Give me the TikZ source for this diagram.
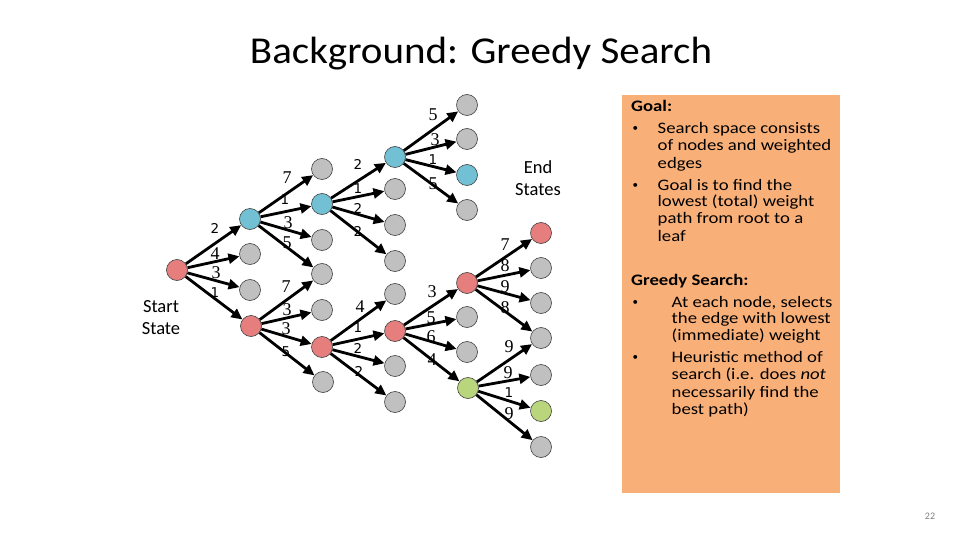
\documentclass[tikz,border=0pt]{standalone}
\usepackage{fontspec}
\setmainfont{Carlito}
\newfontfamily\titlefont{Carlito}[FakeStretch=1.08]
\newfontfamily\boxfont{Carlito}[FakeStretch=1.17]
\newfontfamily\numserif{Liberation Serif}
\newfontfamily\numsans{DejaVu Sans}
\usetikzlibrary{arrows.meta}
\definecolor{nred}{HTML}{E67E7E}
\definecolor{nblue}{HTML}{72C0D4}
\definecolor{ngray}{HTML}{C0C0C0}
\definecolor{ngreen}{HTML}{B9D67C}
\definecolor{boxc}{HTML}{F9AF78}
\begin{document}
\begin{tikzpicture}[x=1pt,y=-1pt,
  tn/.style={circle,draw=black!75,line width=0.6pt,minimum size=21pt,inner sep=0pt},
  redn/.style={tn,fill=nred},
  bluen/.style={tn,fill=nblue},
  grayn/.style={tn,fill=ngray},
  greenn/.style={tn,fill=ngreen},
  edge/.style={line width=2.8pt,-{Triangle[length=11pt,width=10pt]}},
  ws/.style={inner sep=0pt,font=\numsans\fontsize{13.5pt}{14pt}\selectfont},
  wr/.style={inner sep=0pt,font=\numserif\fontsize{18pt}{18pt}\selectfont},
  lbl/.style={anchor=base,inner sep=0pt,font=\fontsize{18.5pt}{20pt}\selectfont},
  bt/.style={anchor=base west,inner sep=0pt,font=\boxfont\fontsize{16pt}{17pt}\selectfont},
  bul/.style={anchor=base west,inner sep=0pt,font=\fontsize{11pt}{11pt}\selectfont},
  bb/.style={bt,font=\boxfont\bfseries\fontsize{16pt}{17pt}\selectfont}]
\useasboundingbox (0,0) rectangle (960,540);

% title
\node[anchor=base,inner sep=0pt,font=\titlefont\fontsize{38pt}{42pt}\selectfont] (title) at (481,64) {Background: Greedy Search};

% nodes
\node[redn] (R0) at (177,270) {};
\node[bluen] (B1) at (250,219) {};
\node[grayn] (G1a) at (250,254) {};
\node[grayn] (G1b) at (250,290) {};
\node[redn] (R1) at (251,326) {};

\node[grayn] (G2a) at (322,169) {};
\node[bluen] (B2) at (322,204) {};
\node[grayn] (G2b) at (322,240) {};
\node[grayn] (G2c) at (322,274) {};
\node[grayn] (G2d) at (322,310) {};
\node[redn] (R2) at (322,347) {};
\node[grayn] (G2e) at (323,382) {};

\node[bluen] (B3) at (395,157) {};
\node[grayn] (G3a) at (395,189) {};
\node[grayn] (G3b) at (395,225) {};
\node[grayn] (G3c) at (395,261) {};
\node[grayn] (G3d) at (395,294) {};
\node[redn] (R3) at (395,331) {};
\node[grayn] (G3e) at (395,366) {};
\node[grayn] (G3f) at (395,402) {};

\node[grayn] (G4a) at (467,105) {};
\node[grayn] (G4b) at (467,139) {};
\node[bluen] (B4) at (467,175) {};
\node[grayn] (G4c) at (467,210) {};
\node[redn] (R4) at (467,283) {};
\node[grayn] (G4d) at (467,317) {};
\node[grayn] (G4e) at (467,352) {};
\node[greenn] (N4) at (468,388) {};

\node[redn] (R5) at (541,233) {};
\node[grayn] (G5a) at (541,268) {};
\node[grayn] (G5b) at (541,303) {};
\node[grayn] (G5c) at (541,338) {};
\node[grayn] (G5d) at (541,375) {};
\node[greenn] (N5) at (541,411) {};
\node[grayn] (G5e) at (541,447) {};

% edges
\foreach \a/\b in {R0/B1,R0/G1a,R0/G1b,R0/R1,
  B1/G2a,B1/B2,B1/G2b,B1/G2c,R1/G2c,R1/G2d,R1/R2,R1/G2e,
  B2/B3,B2/G3a,B2/G3b,B2/G3c,R2/G3d,R2/R3,R2/G3e,R2/G3f,
  B3/G4a,B3/G4b,B3/B4,B3/G4c,R3/R4,R3/G4d,R3/G4e,R3/N4,
  R4/R5,R4/G5a,R4/G5b,R4/G5c,N4/G5c,N4/G5d,N4/N5,N4/G5e}
  \draw[edge] (\a) -- (\b);

% weights
\node[ws] (w1) at (215,228) {2};
\node[wr] (w2) at (215,254) {4};
\node[wr] (w3) at (216,273) {3};
\node[ws] (w4) at (215,293) {1};

\node[wr] (w5) at (287,178) {7};
\node[ws] (w6) at (285,200) {1};
\node[wr] (w7) at (288,223) {3};
\node[wr] (w8) at (287,243) {5};

\node[wr] (w9) at (286,287) {7};
\node[wr] (w10) at (287,310) {3};
\node[wr] (w11) at (286,329) {3};
\node[ws] (w12) at (286,352) {5};

\node[ws] (w13) at (358,164) {2};
\node[ws] (w14) at (358,189) {1};
\node[ws] (w15) at (358,208) {2};
\node[ws] (w16) at (358,231) {2};

\node[wr] (w17) at (360,307) {4};
\node[ws] (w18) at (358,328) {1};
\node[ws] (w19) at (358,348) {2};
\node[ws] (w20) at (359,371) {2};

\node[wr] (w21) at (433,115) {5};
\node[wr] (w22) at (435,140) {3};
\node[ws] (w23) at (433,160) {1};
\node[wr] (w24) at (433,184) {5};

\node[wr] (w25) at (432,292) {3};
\node[wr] (w26) at (431,318) {5};
\node[wr] (w27) at (431,337) {6};
\node[wr] (w28) at (432,360) {4};

\node[wr] (w29) at (505,245) {7};
\node[wr] (w30) at (505,266) {8};
\node[wr] (w31) at (505,287) {9};
\node[wr] (w32) at (505,308) {8};

\node[wr] (w33) at (509,347) {9};
\node[wr] (w34) at (508,373) {9};
\node[ws] (w35) at (509,393) {1};
\node[wr] (w36) at (509,414) {9};

% labels
\node[lbl] (s1) at (161,312.7) {Start};
\node[lbl] (s2) at (161,334) {State};
\node[lbl] (e1) at (538,173.3) {End};
\node[lbl] (e2) at (538,195) {States};

% box
\fill[boxc] (622,95) rectangle (840,493);
\node[bb] (g0) at (631,111.5) {Goal:};
\node[bul] (g1b) at (632.5,132) {•};
\node[bt] (g1) at (657.5,134) {Search space consists};
\node[bt] (g2) at (657.5,150.5) {of nodes and weighted};
\node[bt] (g3) at (657.5,168) {edges};
\node[bul] (g4b) at (632.5,188) {•};
\node[bt] (g4) at (657.5,190) {Goal is to find the};
\node[bt] (g5) at (657.5,206.5) {lowest (total) weight};
\node[bt] (g6) at (657.5,223.5) {path from root to a};
\node[bt] (g7) at (657.5,241) {leaf};
\node[bb] (h0) at (631,285.5) {Greedy Search:};
\node[bul] (h1b) at (632.5,305) {•};
\node[bt] (h1) at (671.5,307) {At each node, selects};
\node[bt] (h2) at (671.5,323.5) {the edge with lowest};
\node[bt] (h3) at (671.5,340.5) {(immediate) weight};
\node[bul] (h4b) at (632.5,360) {•};
\node[bt] (h4) at (671.5,362) {Heuristic method of};
\node[bt] (h5) at (671.5,379.5) {search (i.e. does \emph{not}};
\node[bt] (h6) at (671.5,397) {necessarily find the};
\node[bt] (h7) at (671.5,414.5) {best path)};

% page number
\node[inner sep=0pt,text=gray,font=\fontsize{10pt}{10pt}\selectfont] (pn) at (930,516) {22};
\end{tikzpicture}
\end{document}
